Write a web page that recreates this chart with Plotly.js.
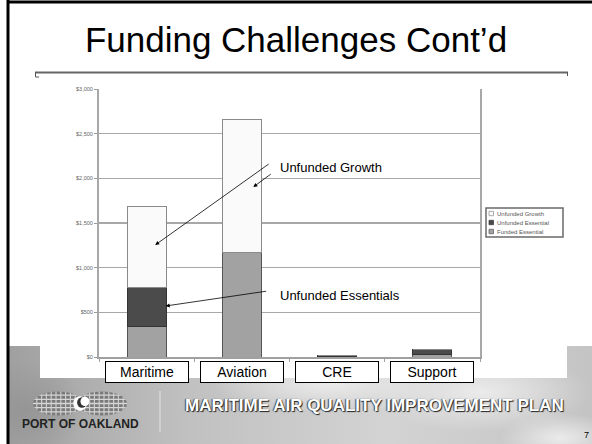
<!DOCTYPE html>
<html>
<head>
<meta charset="utf-8">
<script src="https://cdn.plot.ly/plotly-3.0.1.min.js"></script>
<style>html,body{margin:0;padding:0;background:#fff;}#chart{width:592px;height:444px;}</style>
</head>
<body>
<div id="chart"></div>
<script>
// ---- data ----
const categories = ['Maritime', 'Aviation', 'CRE', 'Support'];
const fundedEssential = [340, 1165, 5, 25];
const unfundedEssential = [435, 0, 15, 60];
const unfundedGrowth = [905, 1495, 0, 0];
const seriesNames = ['Funded Essential', 'Unfunded Essential', 'Unfunded Growth'];
const seriesColors = ['#a2a2a2', '#4b4b4b', '#fafafa'];
const seriesLines = ['#555', '#333', '#8a8a8a'];
const yTickVals = [0, 500, 1000, 1500, 2000, 2500, 3000];
const yTickText = ['$0', '$500', '$1,000', '$1,500', '$2,000', '$2,500', '$3,000'];
const titleText = 'Funding Challenges Cont\u2019d';
const calloutGrowth = 'Unfunded Growth';
const calloutEssentials = 'Unfunded Essentials';
const footerText = 'MARITIME AIR QUALITY IMPROVEMENT PLAN';
const logoText = 'PORT OF OAKLAND';
const pageNumber = '7';

// ---- geometry helpers (pixel -> paper) ----
const W = 592, H = 444;
const L = 99, R = 480, T = 89, B = 357;
const px = v => (v - L) / (R - L);
const py = v => (B - v) / (B - T);

// cloud footer (white chart panel cut out of its top part)
const slideSvg = "<svg xmlns='http://www.w3.org/2000/svg' width='592' height='444' viewBox='0 0 592 444'>" +
  "<defs><linearGradient id='g' gradientUnits='userSpaceOnUse' x1='9' x2='592' y1='0' y2='0'>" +
  "<stop offset='0' stop-color='#a0a0a0'/><stop offset='0.3' stop-color='#c0c0c0'/>" +
  "<stop offset='0.65' stop-color='#d3d3d3'/><stop offset='1' stop-color='#c4c4c4'/></linearGradient>" +
  "<radialGradient id='c'><stop offset='0' stop-color='#ebebeb'/><stop offset='1' stop-color='#ebebeb' stop-opacity='0'/></radialGradient>" +
  "<radialGradient id='d'><stop offset='0' stop-color='#959595'/><stop offset='1' stop-color='#959595' stop-opacity='0'/></radialGradient>" +
  "<clipPath id='f'><path d='M9,346H40V378H567V346H592V444H9Z'/></clipPath></defs>" +
  "<g clip-path='url(#f)'>" +
  "<rect x='9' y='346' width='583' height='98' fill='url(#g)'/>" +
  "<ellipse cx='480' cy='392' rx='110' ry='40' fill='url(#c)'/>" +
  "<ellipse cx='330' cy='383' rx='120' ry='30' fill='url(#c)'/>" +
  "<ellipse cx='560' cy='438' rx='60' ry='25' fill='url(#c)'/>" +
  "<ellipse cx='25' cy='410' rx='60' ry='50' fill='url(#d)'/>" +
  "</g></svg>";
const slideSrc = 'data:image/svg+xml;charset=utf-8,' + encodeURIComponent(slideSvg);

// globe logo image
let globeLines = '';
for (let i = 1; i < 6; i++) {
  globeLines += "<line x1='0' x2='100' y1='" + (i * 4) + "' y2='" + (i * 4) + "' stroke='#d8d8d8' stroke-width='1.3'/>";
}
for (let i = 1; i < 20; i++) {
  globeLines += "<line y1='0' y2='24' x1='" + (i * 5) + "' x2='" + (i * 5) + "' stroke='#d0d0d0' stroke-width='1.2'/>";
}
const globeSvg = "<svg xmlns='http://www.w3.org/2000/svg' width='100' height='24' viewBox='0 0 100 24'>" +
  "<defs><clipPath id='k'><ellipse cx='27' cy='12' rx='26' ry='11.5'/><ellipse cx='73' cy='12' rx='26' ry='11.5'/></clipPath></defs>" +
  "<g clip-path='url(#k)'><rect width='100' height='24' fill='#7a7a7a'/>" + globeLines + "</g>" +
  "<circle cx='50' cy='12' r='7' fill='#fff'/><circle cx='52' cy='11' r='5' fill='#333'/><circle cx='55' cy='10' r='4.5' fill='#fff'/>" +
  "</svg>";
const globeSrc = 'data:image/svg+xml;charset=utf-8,' + encodeURIComponent(globeSvg);

const seriesValues = [fundedEssential, unfundedEssential, unfundedGrowth];
const traces = seriesValues.map((vals, i) => ({
  type: 'bar', name: seriesNames[i], x: categories, y: vals,
  marker: {color: seriesColors[i], line: {color: seriesLines[i], width: 1}}, hoverinfo: 'skip'
}));

const boxAnn = categories.map((c, i) => ({
  x: i, y: py(372), xref: 'x', yref: 'paper', text: c, showarrow: false,
  xanchor: 'center', yanchor: 'middle', width: 80, height: 18,
  bgcolor: '#fff', bordercolor: '#000', borderwidth: 1, borderpad: 1,
  font: {family: 'Liberation Sans, Arial', size: 14, color: '#000'}
}));

const arrowStyle = {showarrow: true, arrowhead: 2, arrowsize: 1, arrowwidth: 0.8, arrowcolor: '#000', text: '', xref: 'x', yref: 'y', axref: 'pixel', ayref: 'pixel'};

// compact legend (top entry = last series, as in a stacked chart)
const legTop = 208, legRow = 9;
const legendShapes = [
  {type: 'rect', xref: 'paper', yref: 'paper', x0: px(486), x1: px(563), y0: py(208), y1: py(237),
   fillcolor: '#fff', line: {color: '#6a6a6a', width: 1.5}}
];
const legendAnn = [];
for (let k = 0; k < 3; k++) {
  const s = 2 - k;
  const cy = legTop + 5.5 + k * legRow;
  legendShapes.push({type: 'rect', xref: 'paper', yref: 'paper', x0: px(489), x1: px(493.5), y0: py(cy - 2.2), y1: py(cy + 2.2),
    fillcolor: seriesColors[s], line: {color: seriesLines[s], width: 0.7}});
  legendAnn.push({xref: 'paper', yref: 'paper', x: px(494.5), y: py(cy), text: seriesNames[s], showarrow: false,
    xanchor: 'left', yanchor: 'middle', font: {family: 'Liberation Sans, Arial', size: 6, color: '#555'}});
}

const annotations = boxAnn.concat(legendAnn, [
  {xref: 'paper', yref: 'paper', x: px(278), y: py(167), text: calloutGrowth, showarrow: false,
   xanchor: 'left', yanchor: 'middle', font: {family: 'Liberation Sans, Arial', size: 13, color: '#000'}},
  {xref: 'paper', yref: 'paper', x: px(278), y: py(295), text: calloutEssentials, showarrow: false,
   xanchor: 'left', yanchor: 'middle', font: {family: 'Liberation Sans, Arial', size: 13, color: '#000'}},
  Object.assign({x: 0.09, y: 1254, ax: 115, ay: -82}, arrowStyle),
  Object.assign({x: 1.12, y: 1903, ax: 19, ay: -14}, arrowStyle),
  Object.assign({x: 0.2, y: 571, ax: 102, ay: -15}, arrowStyle),
  {xref: 'paper', yref: 'paper', x: px(374), y: py(405), text: footerText, showarrow: false,
   xanchor: 'center', yanchor: 'middle',
   font: {family: 'Liberation Sans, Arial', size: 17, color: '#fff', weight: 'bold', shadow: '1px 1px 1px #222, -1px 0px 1px #444'}},
  {xref: 'paper', yref: 'paper', x: px(80), y: py(424), text: logoText, showarrow: false,
   xanchor: 'center', yanchor: 'middle',
   font: {family: 'Liberation Sans, Arial', size: 12, color: '#222', weight: 'bold'}},
  {xref: 'paper', yref: 'paper', x: px(586), y: py(435), text: pageNumber, showarrow: false,
   xanchor: 'center', yanchor: 'middle',
   font: {family: 'Liberation Sans, Arial', size: 9, color: '#000'}}
]);

const shapes = legendShapes.concat([
  // slide frame
  {type: 'line', xref: 'paper', yref: 'paper', x0: px(8), x1: px(8), y0: py(0), y1: py(444), line: {color: '#000', width: 3}},
  {type: 'line', xref: 'paper', yref: 'paper', x0: px(7), x1: px(592), y0: py(2), y1: py(2), line: {color: '#000', width: 3}},
  // title rule
  {type: 'line', xref: 'paper', yref: 'paper', x0: px(35), x1: px(568), y0: py(72.5), y1: py(72.5), line: {color: '#666', width: 2}},
  {type: 'path', xref: 'paper', yref: 'paper',
   path: 'M' + px(35.5) + ',' + py(72) + 'L' + px(35.5) + ',' + py(77) + 'L' + px(39) + ',' + py(77),
   line: {color: '#555', width: 1}},
  {type: 'line', xref: 'paper', yref: 'paper', x0: px(567.5), x1: px(567.5), y0: py(72), y1: py(76), line: {color: '#555', width: 1}},
  // footer separator
  {type: 'line', xref: 'paper', yref: 'paper', x0: px(160), x1: px(160), y0: py(391), y1: py(432), line: {color: '#e4e4e4', width: 1}}
]);

const layout = {
  width: W, height: H,
  margin: {l: L, r: W - R, t: T, b: H - B, pad: 0, autoexpand: false},
  paper_bgcolor: '#fff', plot_bgcolor: '#fff',
  barmode: 'stack', bargap: 0.59,
  showlegend: false,
  title: {text: titleText, x: 0.5, xref: 'container', y: 1 - 40 / H, yref: 'container', xanchor: 'center', yanchor: 'middle',
          font: {family: 'Liberation Sans, Arial', size: 35, color: '#000'}},
  xaxis: {type: 'category', showticklabels: false, showgrid: false, showline: true, linecolor: '#a0a0a0', linewidth: 2,
          ticks: 'outside', tickson: 'boundaries', ticklen: 3, tickcolor: '#a0a0a0', zeroline: false, fixedrange: true},
  yaxis: {range: [0, 3000], tickvals: yTickVals, ticktext: yTickText, showgrid: true, gridcolor: '#a8a8a8', gridwidth: 1.5,
          showline: true, mirror: true, linecolor: '#a8a8a8', linewidth: 2, ticks: 'outside', ticklen: 3, tickcolor: '#999',
          zeroline: false, tickfont: {family: 'Liberation Sans, Arial', size: 5.5, color: '#666'}, fixedrange: true},
  images: [
    {source: slideSrc, xref: 'paper', yref: 'paper', x: px(0), y: py(0), sizex: W / (R - L), sizey: H / (B - T),
     sizing: 'stretch', xanchor: 'left', yanchor: 'top', layer: 'below'},
    {source: globeSrc, xref: 'paper', yref: 'paper', x: px(32), y: py(391), sizex: 96 / (R - L), sizey: 25 / (B - T),
     sizing: 'stretch', xanchor: 'left', yanchor: 'top', layer: 'above'}
  ],
  shapes: shapes,
  annotations: annotations
};

Plotly.newPlot('chart', traces, layout, {displayModeBar: false, staticPlot: true});
</script>
</body>
</html>
